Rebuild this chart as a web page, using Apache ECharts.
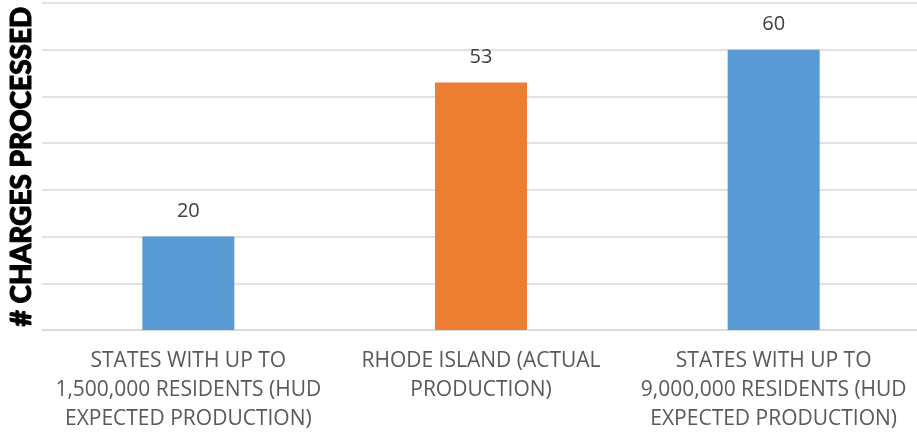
<!DOCTYPE html>
<html>
<head>
<meta charset="utf-8">
<script src="https://cdn.jsdelivr.net/npm/echarts@6/dist/echarts.min.js"></script>
<style>
  html, body { margin: 0; padding: 0; background: #fff; overflow: hidden; }
  #chart { width: 917px; height: 433px; }
</style>
</head>
<body>
<div id="chart"></div>
<script>
// Charge processing comparison
const categories = [
  'STATES WITH UP TO\n1,500,000 RESIDENTS (HUD\nEXPECTED PRODUCTION)',
  'RHODE ISLAND (ACTUAL\nPRODUCTION)',
  'STATES WITH UP TO\n9,000,000 RESIDENTS (HUD\nEXPECTED PRODUCTION)'
];
const chargesProcessed = [20, 53, 60];
const barColors = ['#5b9bd5', '#ed7d31', '#5b9bd5'];
const yAxisTitle = '# CHARGES PROCESSED';

const chart = echarts.init(document.getElementById('chart'));
chart.setOption({
  animation: false,
  grid: { left: 42, right: -3, top: 3, bottom: 103, outerBoundsMode: 'none', containLabel: false },
  xAxis: {
    type: 'category',
    data: categories,
    axisTick: { show: false },
    axisLine: { lineStyle: { color: '#d9d9d9', width: 1.5 } },
    axisLabel: {
      color: '#595959',
      fontFamily: '"Open Sans", sans-serif',
      fontSize: 21,
      lineHeight: 29,
      margin: 17,
      interval: 0
    }
  },
  yAxis: {
    type: 'value',
    min: 0,
    max: 70,
    interval: 10,
    name: yAxisTitle,
    nameLocation: 'middle',
    nameGap: 6,
    nameTextStyle: {
      color: '#000',
      fontFamily: 'Lato, sans-serif',
      fontWeight: 900,
      fontSize: 28,
      textBorderColor: '#000',
      textBorderWidth: 1
    },
    axisLabel: { show: false },
    axisTick: { show: false },
    axisLine: { show: false },
    splitLine: { lineStyle: { color: '#d9d9d9', width: 1.5 } }
  },
  series: [{
    type: 'bar',
    data: chargesProcessed.map((v, i) => ({ value: v, itemStyle: { color: barColors[i] } })),
    barWidth: 92,
    label: {
      show: true,
      position: 'top',
      distance: 15,
      color: '#404040',
      fontFamily: '"Open Sans", sans-serif',
      fontSize: 20
    }
  }]
});
</script>
</body>
</html>
